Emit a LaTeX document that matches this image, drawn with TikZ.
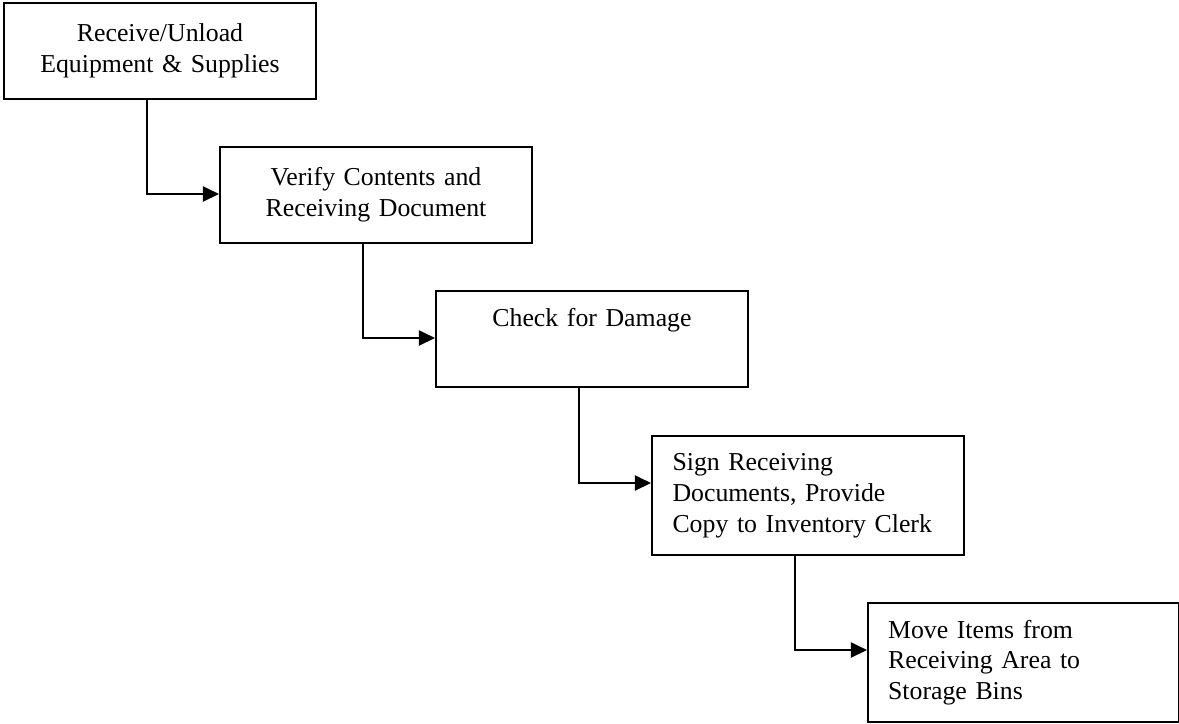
\documentclass[tikz,border=0pt]{standalone}
\usepackage{fontspec}
\setmainfont{Liberation Serif}
\usetikzlibrary{arrows.meta, positioning, calc}

\begin{document}
\begin{tikzpicture}[x=0.465pt, y=-0.465pt,
    stepbox/.style={draw, line width=1pt, anchor=north west, minimum width=145pt,
                    inner sep=0pt, font=\fontsize{12}{14.3}\selectfont},
    midbox/.style={stepbox, minimum height=44.5pt, align=center, text width=140pt},
    leftbox/.style={stepbox, minimum height=55.3pt, align=left, inner xsep=9.3pt, text width=126pt},
    flow/.style={line width=1pt, -{Triangle[length=7.5pt, width=7pt]}}]
    \useasboundingbox (0, 0) rectangle (1179, 723);

    % Steps
    \node[midbox] (recv) at (3, 2) {Receive/Unload\\Equipment \& Supplies};
    \node[midbox] (verify) at (219, 146) {Verify Contents and\\Receiving Document};
    \node[midbox, text depth=20pt] (damage) at (435, 290) {Check for Damage};
    \node[leftbox] (sign) at (651, 435) {Sign Receiving\\Documents, Provide\\Copy to Inventory Clerk};
    \node[leftbox, minimum width=144.2pt] (move) at (867, 602) {Move Items from\\Receiving Area to\\Storage Bins};

    % Flow
    \draw[flow] ($(recv.south west)+(144, 0)$) |- ($(verify.north west)+(0, 48)$);
    \draw[flow] ($(verify.south west)+(144, 0)$) |- ($(damage.north west)+(0, 48)$);
    \draw[flow] ($(damage.south west)+(144, 0)$) |- ($(sign.north west)+(0, 48)$);
    \draw[flow] ($(sign.south west)+(144, 0)$) |- ($(move.north west)+(0, 48)$);
\end{tikzpicture}
\end{document}
